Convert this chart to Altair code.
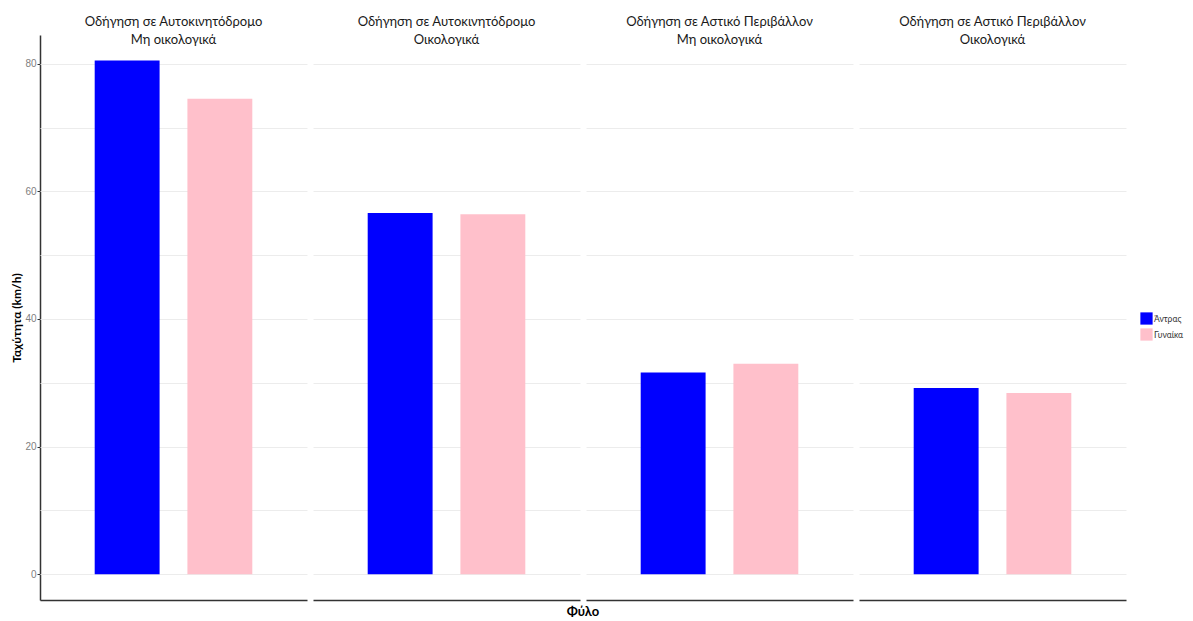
import altair as alt
import pandas as pd

conditions = [
    "Οδήγηση σε Αυτοκινητόδρομο|Μη οικολογικά",
    "Οδήγηση σε Αυτοκινητόδρομο|Οικολογικά",
    "Οδήγηση σε Αστικό Περιβάλλον|Μη οικολογικά",
    "Οδήγηση σε Αστικό Περιβάλλον|Οικολογικά",
]
genders = ["Άντρας", "Γυναίκα"]
speed_men = [80.5, 56.6, 31.6, 29.2]
speed_women = [74.5, 56.4, 33.0, 28.4]

rows = []
for c, m, w in zip(conditions, speed_men, speed_women):
    rows.append({"Συνθήκη": c, "Φύλο": genders[0], "Ταχύτητα": m})
    rows.append({"Συνθήκη": c, "Φύλο": genders[1], "Ταχύτητα": w})
df = pd.DataFrame(rows)

base = alt.Chart(df).mark_bar().encode(
    x=alt.X(
        "Φύλο:N",
        sort=genders,
        scale=alt.Scale(paddingInner=0.30, paddingOuter=0.59),
        axis=alt.Axis(labels=False, ticks=False, title=None,
                      domainColor="#333333", domainWidth=1.5, grid=False),
    ),
    y=alt.Y(
        "Ταχύτητα:Q",
        scale=alt.Scale(domain=[-4.03, 84.5], nice=False, zero=False),
        axis=alt.Axis(
            values=list(range(0, 81, 10)),
            labelExpr="datum.value % 20 == 0 ? datum.label : ''",
            tickOpacity=alt.ExprRef("datum.value % 20 == 0 ? 1 : 0"),
            tickSize=3,
            tickColor="#333333",
            labelPadding=1,
            labelColor="#808080",
            labelFont="Liberation Sans",
            labelFontSize=10,
            gridColor="#ececec",
            gridWidth=1,
            domainColor="#333333",
            domainWidth=1.5,
            title="Ταχύτητα (km/h)",
            titleFont="Lato",
            titleFontWeight="bold",
            titleFontSize=12,
            titlePadding=1,
            titleColor="#000000",
        ),
    ),
    color=alt.Color(
        "Φύλο:N",
        sort=genders,
        scale=alt.Scale(domain=genders, range=["#0000ff", "#ffc0cb"]),
        legend=alt.Legend(
            title=None,
            orient="none",
            legendX=1100,
            legendY=277,
            symbolType="square",
            symbolSize=150,
            symbolStrokeWidth=0,
            symbolOpacity=1,
            labelFont="Lato",
            labelFontSize=8.5,
            labelColor="#333333",
            rowPadding=3,
            labelOffset=1,
        ),
    ),
).properties(width=267, height=565)

chart = base.facet(
    column=alt.Column(
        "Συνθήκη:N",
        sort=conditions,
        header=alt.Header(
            labelExpr="split(datum.label, '|')",
            labelOrient="top",
            labelFont="Lato",
            labelFontSize=13,
            labelColor="#1a1a1a",
            labelPadding=-12,
            labelLineHeight=18,
            title="Φύλο",
            titleOrient="bottom",
            titleFont="Lato",
            titleFontSize=13,
            titleFontWeight="bold",
            titleColor="#000000",
            titlePadding=-4,
        ),
    ),
    spacing=6,
).properties(
    padding={"left": 2, "top": 8, "right": 0, "bottom": 0}
).configure_view(stroke=None).configure_axis(grid=True)

chart.save("out.html", embed_options={"renderer": "svg", "actions": False})
